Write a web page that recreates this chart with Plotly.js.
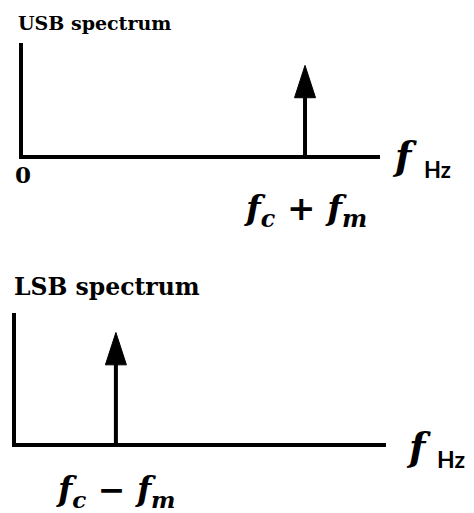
<!DOCTYPE html>
<html>
<head>
<meta charset="utf-8">
<script src="https://cdn.plot.ly/plotly-3.0.1.min.js"></script>
<style>
  html, body { margin: 0; padding: 0; background: #ffffff; }
  #chart { width: 474px; height: 513px; }
</style>
</head>
<body>
<div id="chart"></div>
<script>
// Single-sideband spectra: one spectral line per plot
const spectra = ['USB spectrum', 'LSB spectrum'];
const toneFreq = [7.9, 2.7];          // position of the line on each frequency axis
const toneAmp = [0.8, 0.85];          // height of the line
const toneLabels = ['f<sub>c</sub>\u00a0+\u00a0f<sub>m</sub>', 'f<sub>c</sub>\u00a0\u2212\u00a0f<sub>m</sub>'];
const originLabel = '0';
const freqUnit = 'Hz';

const W = 474, H = 513;
const py = p => (H - p) / H;   // pixel row -> paper y
const px = p => p / W;         // pixel column -> paper x

const INK = '#000000';
const SERIF = 'DejaVu Serif';
const mathFont = { family: SERIF, size: 34, color: INK, weight: 'bold', style: 'italic' };
const lowMathFont = { family: SERIF, size: 33, color: INK, weight: 'bold', style: 'italic' };
const fFont = { family: SERIF, size: 38, color: INK, weight: 'bold', style: 'italic' };

function spectrumTrace(i) {
  const ax = i === 0 ? '' : '2';
  return {
    type: 'scatter',
    mode: 'lines+markers',
    x: [toneFreq[i], toneFreq[i]],
    y: [0, toneAmp[i]],
    xaxis: 'x' + ax,
    yaxis: 'y' + ax,
    line: { color: INK, width: 4 },
    marker: { symbol: 'arrow', size: [0, 34], color: INK, opacity: 1, line: { width: 1, color: INK } },
    opacity: 1,
    hoverinfo: 'skip',
    showlegend: false
  };
}

function freqAxis(domain, anchor) {
  return {
    domain: domain,
    anchor: anchor,
    range: [0, 10],
    showgrid: false,
    zeroline: false,
    showline: true,
    linecolor: INK,
    linewidth: 4,
    ticks: '',
    showticklabels: false,
    fixedrange: true
  };
}

function ampAxis(domain, anchor) {
  return {
    domain: domain,
    anchor: anchor,
    range: [0, 1],
    showgrid: false,
    zeroline: false,
    showline: true,
    linecolor: INK,
    linewidth: 4,
    ticks: '',
    showticklabels: false,
    fixedrange: true
  };
}

const annotations = [
  // panel titles
  { xref: 'paper', yref: 'paper', x: px(16), y: py(10), xanchor: 'left', yanchor: 'top',
    text: '<b>' + spectra[0] + '</b>', showarrow: false,
    font: { family: 'DejaVu Serif', size: 19, color: INK } },
  { xref: 'paper', yref: 'paper', x: px(12), y: py(271), xanchor: 'left', yanchor: 'top',
    text: '<b>' + spectra[1] + '</b>', showarrow: false,
    font: { family: 'DejaVu Serif', size: 23.5, color: INK } },
  // origin of the upper frequency axis
  { xref: 'x', yref: 'y', x: 0, y: 0, xanchor: 'center', yanchor: 'top', yshift: -4,
    text: '<b>' + originLabel + '</b>', showarrow: false,
    font: { family: 'DejaVu Serif', size: 23, color: INK } },
  // line labels under each spectral line
  { xref: 'x', yref: 'y', x: toneFreq[0], y: 0, xanchor: 'center', yanchor: 'top', yshift: -31,
    text: toneLabels[0], showarrow: false, font: mathFont },
  { xref: 'x2', yref: 'y2', x: toneFreq[1], y: 0, xanchor: 'center', yanchor: 'top', yshift: -25,
    text: toneLabels[1], showarrow: false, font: lowMathFont },
  // frequency axis names
  { xref: 'paper', yref: 'paper', x: px(390), y: py(131), xanchor: 'left', yanchor: 'top',
    text: 'f', showarrow: false, font: fFont },
  { xref: 'paper', yref: 'paper', x: px(422), y: py(154), xanchor: 'left', yanchor: 'top',
    text: freqUnit, showarrow: false, font: { family: 'Lato', size: 22, color: INK, weight: 'bold' } },
  { xref: 'paper', yref: 'paper', x: px(404), y: py(422), xanchor: 'left', yanchor: 'top',
    text: 'f', showarrow: false, font: fFont },
  { xref: 'paper', yref: 'paper', x: px(435), y: py(443), xanchor: 'left', yanchor: 'top',
    text: freqUnit, showarrow: false, font: { family: 'Lato', size: 23, color: INK, weight: 'bold' } }
];

const layout = {
  width: W,
  height: H,
  margin: { l: 0, r: 0, t: 0, b: 0, pad: 0 },
  paper_bgcolor: '#ffffff',
  plot_bgcolor: '#ffffff',
  showlegend: false,
  xaxis: freqAxis([px(23), px(380)], 'y'),
  yaxis: ampAxis([py(155), py(43)], 'x'),
  xaxis2: freqAxis([px(16), px(386)], 'y2'),
  yaxis2: ampAxis([py(443), py(313)], 'x2'),
  annotations: annotations
};

Plotly.newPlot('chart', [spectrumTrace(0), spectrumTrace(1)], layout,
  { displayModeBar: false, staticPlot: true });
</script>
</body>
</html>
